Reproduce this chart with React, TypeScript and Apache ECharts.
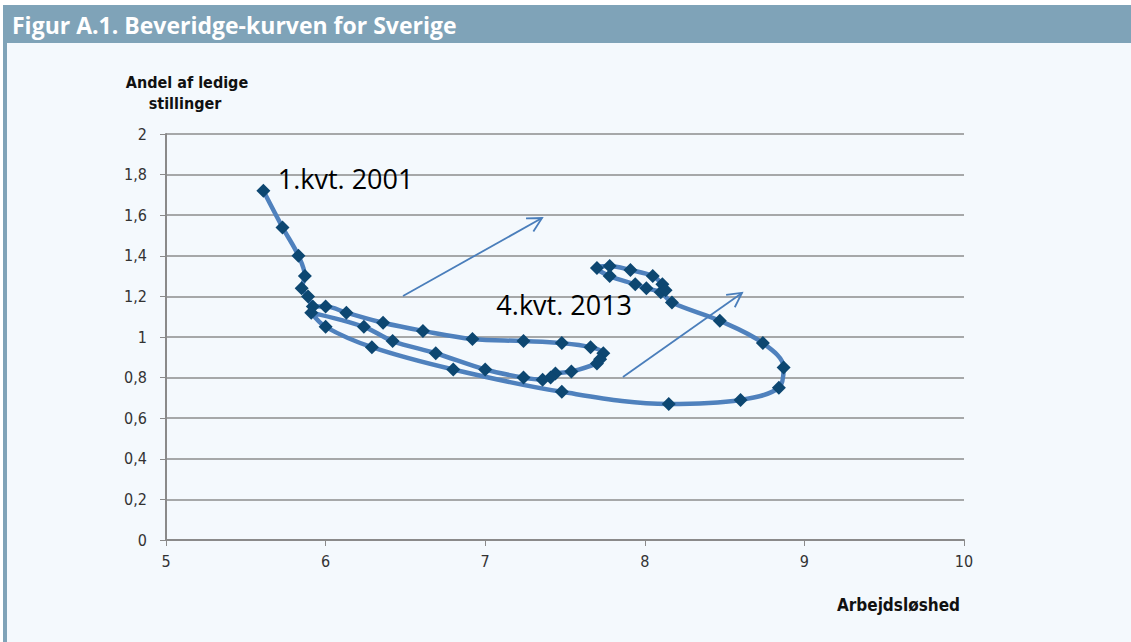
import React, { useEffect, useRef } from "react";
import * as echarts from "echarts";

// Arbejdsløshed (x) and Andel af ledige stillinger (y), quarterly 2001Q1 -> 2013Q4
const unemployment = [
  5.61, 5.73, 5.83, 5.87, 5.85, 5.89, 5.92, 6.0, 6.13, 6.36, 6.61, 6.92, 7.24, 7.48,
  7.66, 7.74, 7.72, 7.7, 7.54, 7.44, 7.41, 7.36, 7.24, 7.0, 6.69, 6.42, 6.24, 5.91,
  6.0, 6.29, 6.8, 7.48, 8.15, 8.6, 8.84, 8.87, 8.74, 8.47, 8.17, 8.1, 8.01, 7.94,
  7.78, 7.7, 7.78, 7.91, 8.05, 8.11, 8.13,
];
const vacancies = [
  1.72, 1.54, 1.4, 1.3, 1.24, 1.2, 1.15, 1.15, 1.12, 1.07, 1.03, 0.99, 0.98, 0.97,
  0.95, 0.92, 0.89, 0.87, 0.83, 0.82, 0.8, 0.79, 0.8, 0.84, 0.92, 0.98, 1.05, 1.12,
  1.05, 0.95, 0.84, 0.73, 0.67, 0.69, 0.75, 0.85, 0.97, 1.08, 1.17, 1.22, 1.24, 1.26,
  1.3, 1.34, 1.35, 1.33, 1.3, 1.26, 1.23,
];

// annotations (data coordinates)
const labelTexts = ["1.kvt. 2001", "4.kvt. 2013"];
const labelX = [5.7, 7.07];
const labelY = [1.78, 1.16];
const arrowFromX = [6.485, 7.863];
const arrowFromY = [1.202, 0.803];
const arrowToX = [7.356, 8.609];
const arrowToY = [1.586, 1.217];

const title = "Figur A.1. Beveridge-kurven for Sverige";
const yName = ["Andel af ledige", "stillinger"];
const xName = "Arbejdsløshed";

const fmt = (v: number) => {
  const r = Math.round(v * 10) / 10;
  return Number.isInteger(r) ? String(r) : r.toFixed(1).replace(".", ",");
};

const tickFont = "'Liberation Sans Narrow', 'DejaVu Sans Condensed', 'Liberation Sans', sans-serif";

export default function App() {
  const ref = useRef<HTMLDivElement>(null);
  useEffect(() => {
    document.body.style.margin = "0";
    const chart = echarts.init(ref.current!, null, { renderer: "svg" });
    const data = unemployment.map((x, i) => [x, vacancies[i]]);
    chart.setOption({
      animation: false,
      backgroundColor: "#f4f9fd",
      grid: { left: 166, right: 167, top: 134, bottom: 102 },
      xAxis: {
        type: "value",
        min: 5,
        max: 10,
        interval: 1,
        axisLine: { show: true, lineStyle: { color: "#8a8a8a", width: 2 } },
        axisTick: { show: true, length: 6, lineStyle: { color: "#8a8a8a", width: 1 } },
        splitLine: { show: false },
        axisLabel: { color: "#333", fontSize: 16, fontFamily: tickFont, margin: 13, formatter: fmt },
      },
      yAxis: {
        type: "value",
        min: 0,
        max: 2,
        interval: 0.2,
        axisLine: { show: true, lineStyle: { color: "#8a8a8a", width: 2 } },
        axisTick: { show: true, length: 6, lineStyle: { color: "#8a8a8a", width: 1 } },
        splitLine: { show: true, lineStyle: { color: "#8c8c8c", width: 1.5 } },
        axisLabel: { color: "#333", fontSize: 16, fontFamily: tickFont, margin: 19, formatter: fmt },
      },
      series: [
        {
          type: "line",
          data,
          smooth: 0.35,
          symbol: "diamond",
          symbolSize: 14,
          itemStyle: { color: "#0d4771" },
          lineStyle: { color: "#4f81bd", width: 4.5 },
          z: 3,
        },
      ],
    });

    const graphics: any[] = [
      { type: "rect", shape: { x: 0, y: 0, width: 1131, height: 5 }, style: { fill: "#ffffff" }, z: -1 },
      { type: "rect", shape: { x: 0, y: 0, width: 3, height: 642 }, style: { fill: "#ffffff" }, z: -1 },
      { type: "rect", shape: { x: 3, y: 5, width: 1128, height: 38 }, style: { fill: "#7fa3b8" }, z: -1 },
      { type: "rect", shape: { x: 3, y: 43, width: 4, height: 599 }, style: { fill: "#7fa3b8" }, z: -1 },
      {
        type: "text",
        x: 12,
        y: 25,
        style: {
          text: title,
          fill: "#ffffff",
          font: "bold 23px 'Open Sans', sans-serif",
          textVerticalAlign: "middle",
        },
      },
      {
        type: "text",
        x: 187,
        y: 82,
        style: {
          text: yName[0],
          fill: "#111",
          font: "bold 16px " + tickFont,
          textAlign: "center",
          textVerticalAlign: "middle",
        },
      },
      {
        type: "text",
        x: 185,
        y: 103,
        style: {
          text: yName[1],
          fill: "#111",
          font: "bold 16px " + tickFont,
          textAlign: "center",
          textVerticalAlign: "middle",
        },
      },
      {
        type: "text",
        x: 960,
        y: 605,
        style: {
          text: xName,
          fill: "#111",
          font: "bold 17px " + tickFont,
          textAlign: "right",
          textVerticalAlign: "middle",
        },
      },
    ];

    labelTexts.forEach((t, i) => {
      const p = chart.convertToPixel({ gridIndex: 0 }, [labelX[i], labelY[i]]) as number[];
      graphics.push({
        type: "text",
        x: p[0],
        y: p[1],
        z: 10,
        style: {
          text: t,
          fill: "#000",
          font: "27px 'Open Sans', sans-serif",
          textVerticalAlign: "middle",
        },
      });
    });

    arrowFromX.forEach((_, i) => {
      const a = chart.convertToPixel({ gridIndex: 0 }, [arrowFromX[i], arrowFromY[i]]) as number[];
      const b = chart.convertToPixel({ gridIndex: 0 }, [arrowToX[i], arrowToY[i]]) as number[];
      const ang = Math.atan2(b[1] - a[1], b[0] - a[0]);
      const L = 16;
      const h = (28 * Math.PI) / 180;
      const p1 = [b[0] - L * Math.cos(ang - h), b[1] - L * Math.sin(ang - h)];
      const p2 = [b[0] - L * Math.cos(ang + h), b[1] - L * Math.sin(ang + h)];
      const st = { stroke: "#4a7ebb", lineWidth: 1.8, fill: "none" };
      graphics.push({ type: "line", z: 10, shape: { x1: a[0], y1: a[1], x2: b[0], y2: b[1] }, style: st });
      graphics.push({ type: "polyline", z: 10, shape: { points: [p1, b, p2] }, style: st });
    });

    chart.setOption({ graphic: graphics });
    return () => chart.dispose();
  }, []);
  return <div ref={ref} style={{ width: 1131, height: 642 }} />;
}
